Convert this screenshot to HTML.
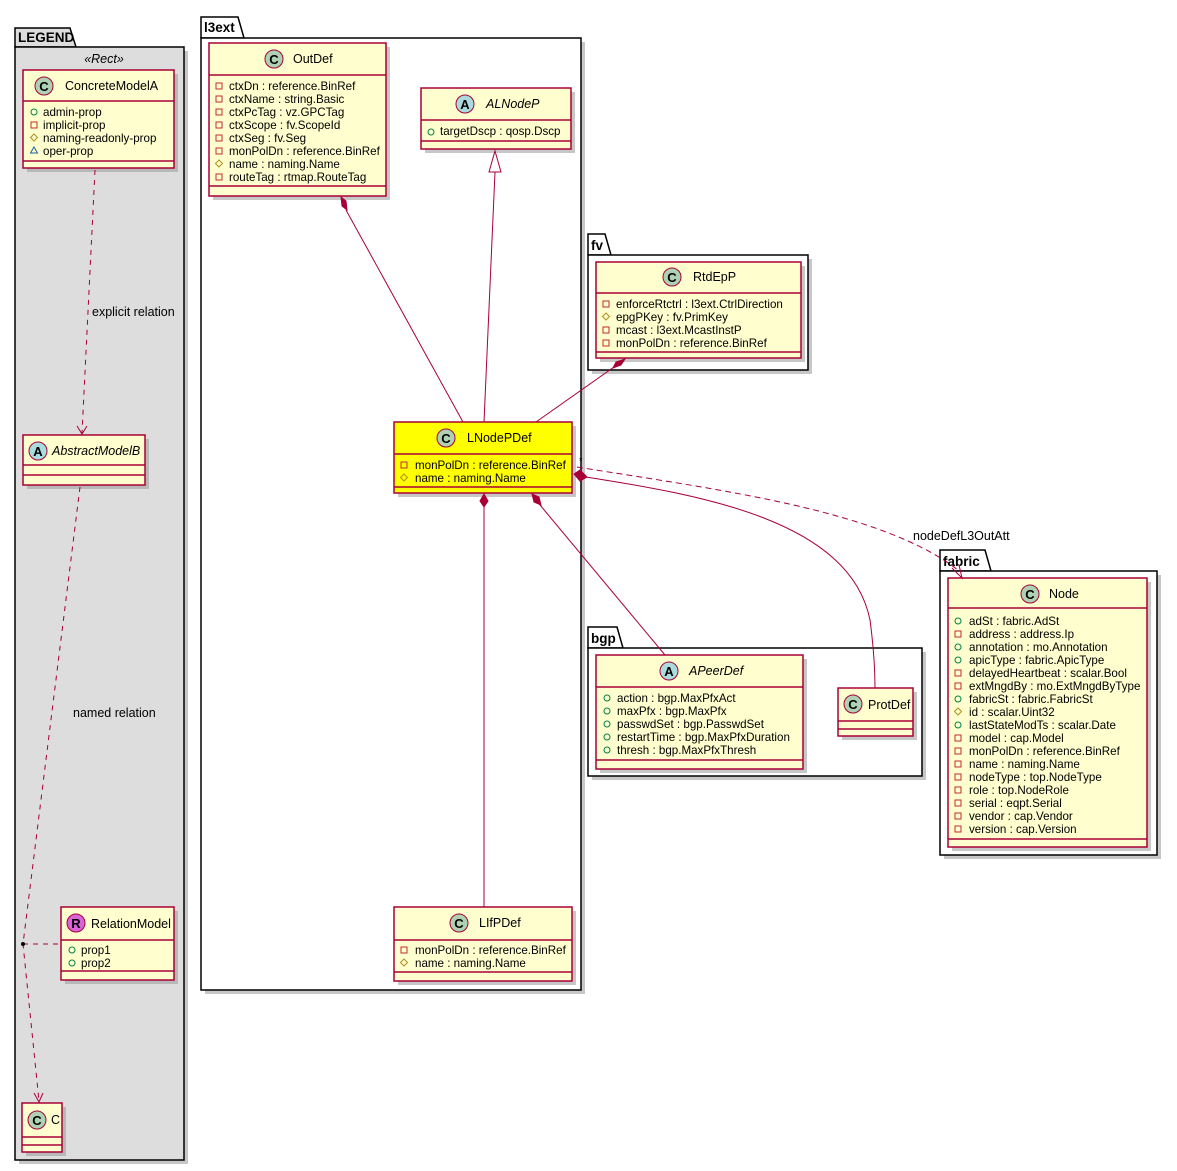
<!DOCTYPE html>
<html><head><meta charset="utf-8"><style>
html,body{margin:0;padding:0;background:#fff}
svg{display:block}
text{font-family:"Liberation Sans","DejaVu Sans",sans-serif;fill:#000}
.m{font-size:11.6px}
.n{font-size:12.5px}
.pk{font-size:13.5px;font-weight:bold}
.b{fill:#fefece;stroke:#a80036;stroke-width:1.5}
.y{fill:#ffff00;stroke:#a80036;stroke-width:1.5}
.sh{fill:#999;opacity:.55}
.l{stroke:#a80036;stroke-width:1.5}
.r{stroke:#a80036;fill:none;stroke-width:1}
.pv{fill:none;stroke:#c82930}
.pu{fill:none;stroke:#038048}
.pr{fill:none;stroke:#b38d22}
.pa{fill:none;stroke:#1963a0}
.ic{font-size:13px;font-weight:bold}
</style></head><body>
<svg width="1177" height="1171" viewBox="0 0 1177 1171" xmlns="http://www.w3.org/2000/svg">
<!-- LEGEND -->
<rect x="19" y="51" width="169" height="1113" class="sh"/>
<path d="M15 47 L15 28 L70 28 L76 47 Z" fill="#ddd" stroke="#000" stroke-width="1.5"/>
<rect x="15" y="47" width="169" height="1113" fill="#ddd" stroke="#000" stroke-width="1.5"/>
<text x="18" y="42" class="pk">LEGEND</text>
<text x="104" y="63" font-size="12.5" font-style="italic" text-anchor="middle">«Rect»</text>

<!-- l3ext -->
<rect x="205" y="42" width="380" height="952" class="sh"/>
<path d="M201 38 L201 17 L238 17 L244 38 Z" fill="#fff" stroke="#000" stroke-width="1.5"/>
<rect x="201" y="38" width="380" height="952" fill="#fff" stroke="#000" stroke-width="1.5"/>
<text x="204" y="32" class="pk">l3ext</text>

<!-- fv -->
<rect x="592" y="259" width="220" height="115" class="sh"/>
<path d="M588 255 L588 234 L605 234 L611 255 Z" fill="#fff" stroke="#000" stroke-width="1.5"/>
<rect x="588" y="255" width="220" height="115" fill="#fff" stroke="#000" stroke-width="1.5"/>
<text x="591" y="250" class="pk">fv</text>

<!-- bgp -->
<rect x="592" y="652" width="334" height="128" class="sh"/>
<path d="M588 648 L588 627 L617 627 L623 648 Z" fill="#fff" stroke="#000" stroke-width="1.5"/>
<rect x="588" y="648" width="334" height="128" fill="#fff" stroke="#000" stroke-width="1.5"/>
<text x="591" y="643" class="pk">bgp</text>

<!-- fabric -->
<rect x="944" y="575" width="217" height="284" class="sh"/>
<path d="M940 571 L940 550 L985 550 L991 571 Z" fill="#fff" stroke="#000" stroke-width="1.5"/>
<rect x="940" y="571" width="217" height="284" fill="#fff" stroke="#000" stroke-width="1.5"/>
<text x="943" y="566" class="pk">fabric</text>

<!-- ConcreteModelA -->
<rect x="27" y="74" width="151" height="98" class="sh"/>
<rect x="23" y="70" width="151" height="98" class="b"/>
<line x1="23" y1="101" x2="174" y2="101" class="l"/><line x1="23" y1="161" x2="174" y2="161" class="l"/>
<circle cx="44" cy="86" r="9" fill="#add1b2" stroke="#a80036"/><text x="44" y="91" class="ic" text-anchor="middle">C</text>
<text x="65" y="90" class="n">ConcreteModelA</text>
<circle cx="34" cy="112" r="3" class="pu"/><text x="43" y="116" class="m">admin-prop</text>
<rect x="31" y="122" width="6" height="6" class="pv"/><text x="43" y="129" class="m">implicit-prop</text>
<path d="M34 134 L37.5 137.5 L34 141 L30.5 137.5 Z" class="pr"/><text x="43" y="142" class="m">naming-readonly-prop</text>
<path d="M34 147 L37.5 153 L30.5 153 Z" class="pa"/><text x="43" y="155" class="m">oper-prop</text>

<!-- AbstractModelB -->
<rect x="27" y="439" width="122" height="50" class="sh"/>
<rect x="23" y="435" width="122" height="50" class="b"/>
<line x1="23" y1="465" x2="145" y2="465" class="l"/><line x1="23" y1="475" x2="145" y2="475" class="l"/>
<circle cx="38" cy="451" r="9" fill="#a9dcdf" stroke="#a80036"/><text x="38" y="456" class="ic" text-anchor="middle">A</text>
<text x="52" y="455" class="n" font-style="italic">AbstractModelB</text>

<!-- RelationModel -->
<rect x="65" y="911" width="113" height="73" class="sh"/>
<rect x="61" y="907" width="113" height="73" class="b"/>
<line x1="61" y1="940" x2="174" y2="940" class="l"/><line x1="61" y1="971" x2="174" y2="971" class="l"/>
<circle cx="76" cy="923" r="9" fill="#d963d9" stroke="#a80036"/><text x="76" y="928" class="ic" text-anchor="middle">R</text>
<text x="91" y="928" class="n">RelationModel</text>
<circle cx="72" cy="950" r="3" class="pu"/><text x="81" y="954" class="m">prop1</text>
<circle cx="72" cy="963" r="3" class="pu"/><text x="81" y="967" class="m">prop2</text>

<!-- C -->
<rect x="26" y="1107" width="40" height="49" class="sh"/>
<rect x="22" y="1103" width="40" height="49" class="b"/>
<line x1="22" y1="1137" x2="62" y2="1137" class="l"/><line x1="22" y1="1145" x2="62" y2="1145" class="l"/>
<circle cx="37" cy="1120" r="9" fill="#add1b2" stroke="#a80036"/><text x="37" y="1125" class="ic" text-anchor="middle">C</text>
<text x="51" y="1124" class="n">C</text>

<!-- legend connectors -->
<path d="M95 170 L82 433" class="r" stroke-dasharray="5,5"/>
<path d="M77 426 L82 434 L87 426" class="r"/>
<text x="92" y="316" class="n">explicit relation</text>
<path d="M80 487 L23 944 L39 1101" class="r" stroke-dasharray="5,5"/>
<path d="M34 1093 L39 1102 L43 1093" class="r"/>
<path d="M23 944 L61 944" class="r" stroke-dasharray="5,5"/>
<circle cx="23" cy="944" r="2" fill="#000"/>
<text x="73" y="717" class="n">named relation</text>

<!-- OutDef -->
<rect x="213" y="47" width="177" height="153" class="sh"/>
<rect x="209" y="43" width="177" height="153" class="b"/>
<line x1="209" y1="75" x2="386" y2="75" class="l"/><line x1="209" y1="186" x2="386" y2="186" class="l"/>
<circle cx="274" cy="59" r="9" fill="#add1b2" stroke="#a80036"/><text x="274" y="64" class="ic" text-anchor="middle">C</text>
<text x="293" y="63" class="n">OutDef</text>
<g>
<rect x="216" y="83" width="6" height="6" class="pv"/><text x="229" y="90" class="m">ctxDn : reference.BinRef</text>
<rect x="216" y="96" width="6" height="6" class="pv"/><text x="229" y="103" class="m">ctxName : string.Basic</text>
<rect x="216" y="109" width="6" height="6" class="pv"/><text x="229" y="116" class="m">ctxPcTag : vz.GPCTag</text>
<rect x="216" y="122" width="6" height="6" class="pv"/><text x="229" y="129" class="m">ctxScope : fv.ScopeId</text>
<rect x="216" y="135" width="6" height="6" class="pv"/><text x="229" y="142" class="m">ctxSeg : fv.Seg</text>
<rect x="216" y="148" width="6" height="6" class="pv"/><text x="229" y="155" class="m">monPolDn : reference.BinRef</text>
<path d="M219 160 L222.5 163.5 L219 167 L215.5 163.5 Z" class="pr"/><text x="229" y="168" class="m">name : naming.Name</text>
<rect x="216" y="174" width="6" height="6" class="pv"/><text x="229" y="181" class="m">routeTag : rtmap.RouteTag</text>
</g>

<!-- ALNodeP -->
<rect x="425" y="92" width="150" height="61" class="sh"/>
<rect x="421" y="88" width="150" height="61" class="b"/>
<line x1="421" y1="120" x2="571" y2="120" class="l"/><line x1="421" y1="141" x2="571" y2="141" class="l"/>
<circle cx="465" cy="104" r="9" fill="#a9dcdf" stroke="#a80036"/><text x="465" y="109" class="ic" text-anchor="middle">A</text>
<text x="486" y="108" class="n" font-style="italic">ALNodeP</text>
<circle cx="431" cy="132" r="3" class="pu"/><text x="440" y="135" class="m">targetDscp : qosp.Dscp</text>

<!-- LNodePDef -->
<rect x="398" y="426" width="178" height="71" class="sh"/>
<rect x="394" y="422" width="178" height="71" class="y"/>
<line x1="394" y1="454" x2="572" y2="454" class="l"/><line x1="394" y1="487" x2="572" y2="487" class="l"/>
<circle cx="446" cy="438" r="9" fill="#add1b2" stroke="#a80036"/><text x="446" y="443" class="ic" text-anchor="middle">C</text>
<text x="467" y="442" class="n">LNodePDef</text>
<rect x="401" y="462" width="6" height="6" class="pv"/><text x="415" y="469" class="m">monPolDn : reference.BinRef</text>
<path d="M404 474 L407.5 477.5 L404 481 L400.5 477.5 Z" class="pr"/><text x="415" y="482" class="m">name : naming.Name</text>

<!-- LIfPDef -->
<rect x="398" y="911" width="178" height="74" class="sh"/>
<rect x="394" y="907" width="178" height="74" class="b"/>
<line x1="394" y1="940" x2="572" y2="940" class="l"/><line x1="394" y1="972" x2="572" y2="972" class="l"/>
<circle cx="459" cy="923" r="9" fill="#add1b2" stroke="#a80036"/><text x="459" y="928" class="ic" text-anchor="middle">C</text>
<text x="479" y="927" class="n">LIfPDef</text>
<rect x="401" y="947" width="6" height="6" class="pv"/><text x="415" y="954" class="m">monPolDn : reference.BinRef</text>
<path d="M404 959 L407.5 962.5 L404 966 L400.5 962.5 Z" class="pr"/><text x="415" y="967" class="m">name : naming.Name</text>

<!-- RtdEpP -->
<rect x="600" y="266" width="205" height="96" class="sh"/>
<rect x="596" y="262" width="205" height="96" class="b"/>
<line x1="596" y1="293" x2="801" y2="293" class="l"/><line x1="596" y1="352" x2="801" y2="352" class="l"/>
<circle cx="672" cy="277" r="9" fill="#add1b2" stroke="#a80036"/><text x="672" y="282" class="ic" text-anchor="middle">C</text>
<text x="693" y="281" class="n">RtdEpP</text>
<rect x="603" y="301" width="6" height="6" class="pv"/><text x="616" y="308" class="m">enforceRtctrl : l3ext.CtrlDirection</text>
<path d="M606 313 L609.5 316.5 L606 320 L602.5 316.5 Z" class="pr"/><text x="616" y="321" class="m">epgPKey : fv.PrimKey</text>
<rect x="603" y="327" width="6" height="6" class="pv"/><text x="616" y="334" class="m">mcast : l3ext.McastInstP</text>
<rect x="603" y="340" width="6" height="6" class="pv"/><text x="616" y="347" class="m">monPolDn : reference.BinRef</text>

<!-- APeerDef -->
<rect x="600" y="659" width="207" height="114" class="sh"/>
<rect x="596" y="655" width="207" height="114" class="b"/>
<line x1="596" y1="687" x2="803" y2="687" class="l"/><line x1="596" y1="760" x2="803" y2="760" class="l"/>
<circle cx="669" cy="671" r="9" fill="#a9dcdf" stroke="#a80036"/><text x="669" y="676" class="ic" text-anchor="middle">A</text>
<text x="689" y="675" class="n" font-style="italic">APeerDef</text>
<circle cx="607" cy="698" r="3" class="pu"/><text x="617" y="702" class="m">action : bgp.MaxPfxAct</text>
<circle cx="607" cy="711" r="3" class="pu"/><text x="617" y="715" class="m">maxPfx : bgp.MaxPfx</text>
<circle cx="607" cy="724" r="3" class="pu"/><text x="617" y="728" class="m">passwdSet : bgp.PasswdSet</text>
<circle cx="607" cy="737" r="3" class="pu"/><text x="617" y="741" class="m">restartTime : bgp.MaxPfxDuration</text>
<circle cx="607" cy="750" r="3" class="pu"/><text x="617" y="754" class="m">thresh : bgp.MaxPfxThresh</text>

<!-- ProtDef -->
<rect x="842" y="692" width="75" height="48" class="sh"/>
<rect x="838" y="688" width="75" height="48" class="b"/>
<line x1="838" y1="721" x2="913" y2="721" class="l"/><line x1="838" y1="729" x2="913" y2="729" class="l"/>
<circle cx="853" cy="704" r="9" fill="#add1b2" stroke="#a80036"/><text x="853" y="709" class="ic" text-anchor="middle">C</text>
<text x="868" y="709" class="n">ProtDef</text>

<!-- Node -->
<rect x="952" y="582" width="199" height="269" class="sh"/>
<rect x="948" y="578" width="199" height="269" class="b"/>
<line x1="948" y1="608" x2="1147" y2="608" class="l"/><line x1="948" y1="839" x2="1147" y2="839" class="l"/>
<circle cx="1030" cy="594" r="9" fill="#add1b2" stroke="#a80036"/><text x="1030" y="599" class="ic" text-anchor="middle">C</text>
<text x="1049" y="598" class="n">Node</text>
<g>
<circle cx="958" cy="621" r="3" class="pu"/><text x="969" y="625" class="m">adSt : fabric.AdSt</text>
<rect x="955" y="631" width="6" height="6" class="pv"/><text x="969" y="638" class="m">address : address.Ip</text>
<circle cx="958" cy="647" r="3" class="pu"/><text x="969" y="651" class="m">annotation : mo.Annotation</text>
<circle cx="958" cy="660" r="3" class="pu"/><text x="969" y="664" class="m">apicType : fabric.ApicType</text>
<rect x="955" y="670" width="6" height="6" class="pv"/><text x="969" y="677" class="m">delayedHeartbeat : scalar.Bool</text>
<rect x="955" y="683" width="6" height="6" class="pv"/><text x="969" y="690" class="m">extMngdBy : mo.ExtMngdByType</text>
<circle cx="958" cy="699" r="3" class="pu"/><text x="969" y="703" class="m">fabricSt : fabric.FabricSt</text>
<path d="M958 708 L961.5 711.5 L958 715 L954.5 711.5 Z" class="pr"/><text x="969" y="716" class="m">id : scalar.Uint32</text>
<circle cx="958" cy="725" r="3" class="pu"/><text x="969" y="729" class="m">lastStateModTs : scalar.Date</text>
<rect x="955" y="735" width="6" height="6" class="pv"/><text x="969" y="742" class="m">model : cap.Model</text>
<rect x="955" y="748" width="6" height="6" class="pv"/><text x="969" y="755" class="m">monPolDn : reference.BinRef</text>
<rect x="955" y="761" width="6" height="6" class="pv"/><text x="969" y="768" class="m">name : naming.Name</text>
<rect x="955" y="774" width="6" height="6" class="pv"/><text x="969" y="781" class="m">nodeType : top.NodeType</text>
<rect x="955" y="787" width="6" height="6" class="pv"/><text x="969" y="794" class="m">role : top.NodeRole</text>
<rect x="955" y="800" width="6" height="6" class="pv"/><text x="969" y="807" class="m">serial : eqpt.Serial</text>
<rect x="955" y="813" width="6" height="6" class="pv"/><text x="969" y="820" class="m">vendor : cap.Vendor</text>
<rect x="955" y="826" width="6" height="6" class="pv"/><text x="969" y="833" class="m">version : cap.Version</text>
</g>

<!-- connectors -->
<path d="M346 210 L463 422" class="r"/>
<path d="M341 197 L346 201 L347 210 L342 206 Z" fill="#a80036" stroke="#a80036"/>
<path d="M484 422 L495 172" class="r"/>
<path d="M495 151 L501 172 L489 172 Z" fill="#fff" stroke="#a80036"/>
<path d="M536 422 L614 367" class="r"/>
<path d="M625 359 L621 365 L613 368 L616 362 Z" fill="#a80036" stroke="#a80036"/>
<path d="M484 507 L484 907" class="r"/>
<path d="M484 494 L488 501 L484 507 L480 501 Z" fill="#a80036" stroke="#a80036"/>
<path d="M540 505 L665 655" class="r"/>
<path d="M532 494 L539 497 L541 505 L534 502 Z" fill="#a80036" stroke="#a80036"/>
<path d="M586 477 C700 495 850 520 870 620 C874 650 875 670 875 688" class="r"/>
<path d="M574 474 L580 470 L587 477 L580 481 Z" fill="#a80036" stroke="#a80036"/>
<path d="M577 467 C720 490 880 510 958 570" class="r" stroke-dasharray="6,4"/>
<path d="M952 568 L962 578 L959 565" class="r"/>
<text x="579" y="464" font-size="9">*</text>
<text x="913" y="540" class="n">nodeDefL3OutAtt</text>
</svg>
</body></html>
